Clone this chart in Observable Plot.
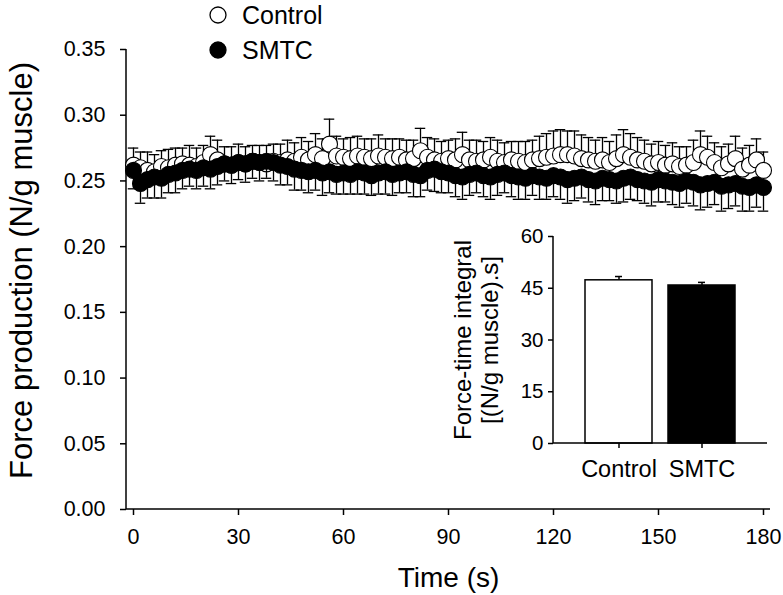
<!DOCTYPE html>
<html><head><meta charset="utf-8">
<script src="https://cdn.jsdelivr.net/npm/d3@7"></script>
<script src="https://cdn.jsdelivr.net/npm/@observablehq/plot@0.6"></script>
<style>
html,body{margin:0;padding:0;background:#fff;}
#wrap{position:relative;width:783px;height:595px;font-family:"Liberation Sans",Arial,sans-serif;background:#fff;overflow:hidden;}
#wrap svg{position:absolute;left:0;top:0;}
.leg{position:absolute;left:209px;height:30px;display:flex;align-items:center;font-size:25px;color:#000;}
.leg span{margin-left:15px;}
</style></head><body><div id="wrap"></div>
<script>
// ---- data ----
const times = [
  0,2,4,6,8,10,12,14,16,18,
  20,22,24,26,28,30,32,34,36,38,
  40,42,44,46,48,50,52,54,56,58,
  60,62,64,66,68,70,72,74,76,78,
  80,82,84,86,88,90,92,94,96,98,
  100,102,104,106,108,110,112,114,116,118,
  120,122,124,126,128,130,132,134,136,138,
  140,142,144,146,148,150,152,154,156,158,
  160,162,164,166,168,170,172,174,176,178,
  180];
const controlMean = [
  0.262,0.260,0.258,0.257,0.261,0.260,0.262,0.263,0.262,0.261,
  0.264,0.270,0.266,0.263,0.262,0.264,0.263,0.265,0.264,0.263,
  0.265,0.264,0.266,0.265,0.268,0.266,0.270,0.267,0.278,0.269,
  0.268,0.267,0.269,0.268,0.267,0.269,0.268,0.267,0.268,0.266,
  0.267,0.273,0.268,0.266,0.265,0.267,0.266,0.270,0.266,0.265,
  0.266,0.268,0.265,0.264,0.266,0.265,0.264,0.266,0.267,0.268,
  0.269,0.270,0.270,0.269,0.267,0.266,0.265,0.266,0.264,0.267,
  0.270,0.268,0.266,0.265,0.263,0.264,0.262,0.263,0.261,0.262,
  0.264,0.270,0.268,0.264,0.260,0.263,0.267,0.259,0.262,0.266,
  0.258];
const controlSE = [
  0.013,0.012,0.014,0.013,0.012,0.014,0.013,0.012,0.015,0.014,
  0.013,0.014,0.015,0.013,0.014,0.014,0.013,0.012,0.013,0.014,
  0.013,0.014,0.015,0.014,0.015,0.014,0.016,0.015,0.019,0.015,
  0.014,0.016,0.015,0.014,0.015,0.016,0.014,0.015,0.014,0.015,
  0.014,0.017,0.015,0.016,0.015,0.014,0.016,0.017,0.015,0.016,
  0.014,0.015,0.016,0.015,0.014,0.015,0.016,0.015,0.017,0.018,
  0.019,0.019,0.018,0.019,0.018,0.017,0.016,0.017,0.016,0.018,
  0.019,0.018,0.017,0.016,0.015,0.016,0.015,0.016,0.015,0.014,
  0.017,0.018,0.016,0.015,0.016,0.015,0.017,0.016,0.015,0.016,
  0.014];
const smtcMean = [
  0.258,0.248,0.251,0.253,0.252,0.255,0.256,0.258,0.259,0.258,
  0.260,0.259,0.261,0.263,0.262,0.264,0.263,0.265,0.264,0.265,
  0.264,0.262,0.261,0.259,0.258,0.257,0.258,0.256,0.257,0.255,
  0.256,0.255,0.257,0.256,0.254,0.256,0.257,0.255,0.256,0.257,
  0.255,0.254,0.258,0.259,0.257,0.256,0.254,0.253,0.255,0.256,
  0.254,0.253,0.255,0.256,0.254,0.253,0.252,0.254,0.253,0.252,
  0.254,0.253,0.251,0.252,0.253,0.251,0.250,0.252,0.251,0.250,
  0.252,0.253,0.251,0.250,0.249,0.251,0.250,0.249,0.248,0.250,
  0.249,0.247,0.248,0.249,0.246,0.247,0.248,0.246,0.245,0.247,
  0.245];
const smtcSE = [
  0.014,0.015,0.014,0.016,0.015,0.014,0.015,0.014,0.013,0.014,
  0.014,0.015,0.014,0.013,0.014,0.013,0.014,0.013,0.014,0.013,
  0.014,0.015,0.014,0.016,0.015,0.016,0.015,0.017,0.016,0.015,
  0.016,0.015,0.017,0.016,0.015,0.016,0.017,0.016,0.015,0.016,
  0.017,0.016,0.015,0.017,0.016,0.015,0.016,0.017,0.016,0.015,
  0.016,0.017,0.016,0.015,0.016,0.017,0.016,0.015,0.017,0.016,
  0.016,0.017,0.018,0.017,0.016,0.017,0.018,0.017,0.016,0.017,
  0.018,0.017,0.016,0.017,0.018,0.017,0.016,0.017,0.018,0.017,
  0.018,0.019,0.018,0.017,0.019,0.018,0.017,0.019,0.018,0.017,
  0.018];
const seriesNames = ["Control", "SMTC"];
const seriesFill = ["white", "black"];
const xTicks = [0, 30, 60, 90, 120, 150, 180];
const yTicks = [0, 0.05, 0.10, 0.15, 0.20, 0.25, 0.30, 0.35];
const xDomain = [-2, 182];
const yDomain = [0, 0.35];
const xTitle = "Time (s)";
const yTitle = "Force production (N/g muscle)";

// inset
const insetGroups = ["Control", "SMTC"];
const insetValues = [47.3, 45.8];
const insetSE = [1.1, 0.9];
const insetFill = ["white", "black"];
const insetTicks = [0, 15, 30, 45, 60];
const insetTitle1 = "Force-time integral";
const insetTitle2 = "[(N/g muscle).s]";

// ---- build ----
const FONT = '"Liberation Sans", Arial, sans-serif';
const wrap = document.getElementById("wrap");
const rows = times.map((t, i) => ({t, c: controlMean[i], cse: controlSE[i], s: smtcMean[i], sse: smtcSE[i]}));
const capHalf = 1.5;

function axisLines(sides) {
  return (index, scales, values, dim) => {
    const g = d3.create("svg:g").attr("stroke", "black").attr("stroke-width", 1.5);
    const l = dim.marginLeft, r = dim.width - dim.marginRight, t = dim.marginTop, b = dim.height - dim.marginBottom;
    if (sides.includes("left")) g.append("line").attr("x1", l).attr("x2", l).attr("y1", t).attr("y2", b);
    if (sides.includes("bottom")) g.append("line").attr("x1", l).attr("x2", r).attr("y1", b).attr("y2", b);
    return g.node();
  };
}

const main = Plot.plot({
  width: 783, height: 595,
  marginLeft: 126, marginRight: 13, marginTop: 49, marginBottom: 86,
  style: {background: "transparent", fontFamily: FONT, fontSize: "21px", color: "black", overflow: "visible"},
  x: {domain: xDomain, label: null},
  y: {domain: yDomain, label: null},
  marks: [
    axisLines(["left", "bottom"]),
    Plot.axisY({ticks: yTicks, tickFormat: d3.format(".2f"), tickSize: 6, tickPadding: 15, fontSize: 21.5, strokeWidth: 1.5, label: null}),
    Plot.axisX({ticks: xTicks, tickFormat: d3.format("d"), tickSize: 6, tickPadding: 13, fontSize: 21.5, strokeWidth: 1.5, label: null}),
    // Control: upward SE
    Plot.ruleX(rows, {x: "t", y1: "c", y2: d => d.c + d.cse, stroke: "black", strokeWidth: 1.3}),
    Plot.ruleY(rows, {y: d => d.c + d.cse, x1: d => d.t - capHalf, x2: d => d.t + capHalf, stroke: "black", strokeWidth: 1.3}),
    Plot.dot(rows, {x: "t", y: "c", r: 8, fill: seriesFill[0], stroke: "black", strokeWidth: 1.1}),
    // SMTC: downward SE
    Plot.ruleX(rows, {x: "t", y1: "s", y2: d => d.s - d.sse, stroke: "black", strokeWidth: 1.3}),
    Plot.ruleY(rows, {y: d => d.s - d.sse, x1: d => d.t - capHalf, x2: d => d.t + capHalf, stroke: "black", strokeWidth: 1.3}),
    Plot.dot(rows, {x: "t", y: "s", r: 8, fill: seriesFill[1], stroke: "black", strokeWidth: 1.1}),
    Plot.text([yTitle], {text: d => d, frameAnchor: "left", textAnchor: "middle", lineAnchor: "middle", rotate: -90, dx: -104, dy: -9, fontSize: 31}),
    Plot.text([xTitle], {text: d => d, frameAnchor: "bottom", textAnchor: "middle", lineAnchor: "middle", dy: 69, fontSize: 28})
  ]
});
wrap.appendChild(main);

const barData = insetGroups.map((g, i) => ({group: g, value: insetValues[i], se: insetSE[i], fill: insetFill[i]}));
const inset = Plot.plot({
  width: 783, height: 595,
  marginLeft: 553, marginRight: 16, marginTop: 236, marginBottom: 152,
  style: {background: "transparent", fontFamily: FONT, fontSize: "20px", color: "black", overflow: "visible"},
  x: {domain: insetGroups, paddingInner: 0.19, paddingOuter: 0.37, label: null},
  y: {domain: [0, 60], label: null},
  color: {type: "identity"},
  marks: [
    Plot.ruleX(barData, {x: "group", y1: "value", y2: d => d.value + d.se, stroke: "black", strokeWidth: 1.5}),
    Plot.tickY(barData, {x: "group", y: d => d.value + d.se, stroke: "black", strokeWidth: 1.5, inset: 30}),
    Plot.barY(barData, {x: "group", y: "value", fill: "fill", stroke: "black", strokeWidth: 1.5}),
    axisLines(["left", "bottom"]),
    Plot.axisY({ticks: insetTicks, tickSize: 5, tickPadding: 5, fontSize: 20.5, strokeWidth: 1.5, label: null}),
    Plot.axisX({tickSize: 5, tickPadding: 12, fontSize: 23.5, strokeWidth: 1.5, label: null}),
    Plot.text([insetTitle1], {text: d => d, frameAnchor: "left", textAnchor: "middle", lineAnchor: "middle", rotate: -90, dx: -90, fontSize: 24}),
    Plot.text([insetTitle2], {text: d => d, frameAnchor: "left", textAnchor: "middle", lineAnchor: "middle", rotate: -90, dx: -63, fontSize: 24})
  ]
});
wrap.appendChild(inset);

// legend
const legendCenters = [15, 50];
seriesNames.forEach((name, i) => {
  const div = document.createElement("div");
  div.className = "leg";
  div.style.top = (legendCenters[i] - 15) + "px";
  div.innerHTML = `<svg width="18" height="18" style="position:static"><circle cx="9" cy="9" r="8" fill="${seriesFill[i]}" stroke="black" stroke-width="1.3"/></svg><span>${name}</span>`;
  wrap.appendChild(div);
});
</script></body></html>
